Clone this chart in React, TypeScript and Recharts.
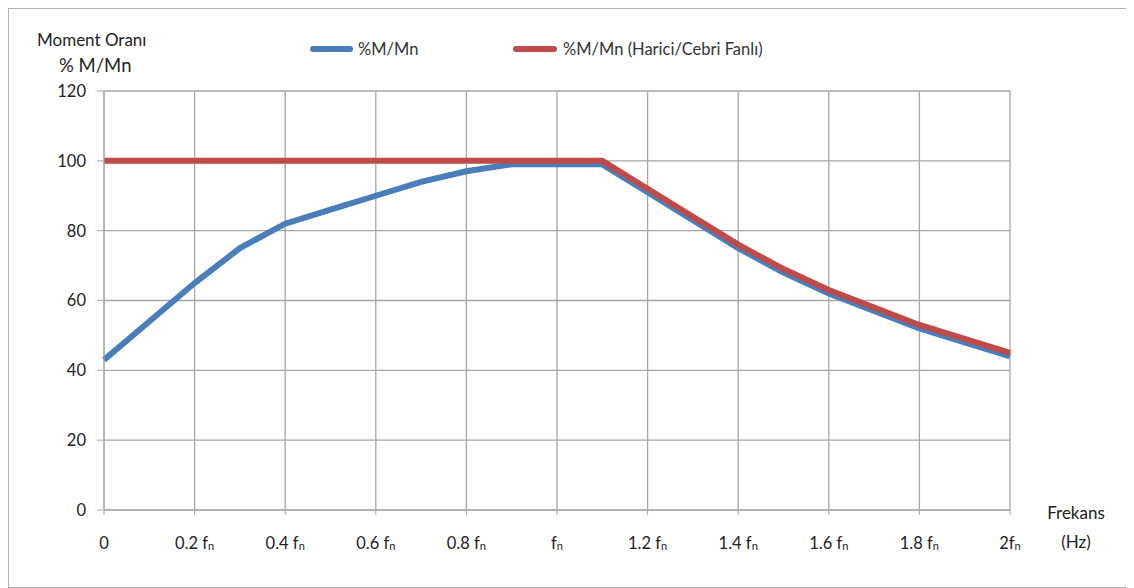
import { LineChart, Line, XAxis, YAxis, CartesianGrid } from "recharts";

// frequency as a fraction of the nominal frequency fn
const freq = [
  0, 0.1, 0.2, 0.3, 0.4, 0.5, 0.6, 0.7, 0.8, 0.9, 1.0, 1.1, 1.2, 1.3, 1.4,
  1.5, 1.6, 1.7, 1.8, 1.9, 2.0,
];
const momentSelf = [
  43, 54, 65, 75, 82, 86, 90, 94, 97, 99, 99, 99, 91, 83, 75, 68, 62, 57, 52,
  48, 44,
];
const momentForced = [
  100, 100, 100, 100, 100, 100, 100, 100, 100, 100, 100, 100, 92, 84, 76, 69,
  63, 58, 53, 49, 45,
];
const xTicks = [0, 0.2, 0.4, 0.6, 0.8, 1.0, 1.2, 1.4, 1.6, 1.8, 2.0];
const xTickLabels = [
  "0", "0.2 fn", "0.4 fn", "0.6 fn", "0.8 fn", "fn",
  "1.2 fn", "1.4 fn", "1.6 fn", "1.8 fn", "2fn",
];
const yTicks = [0, 20, 40, 60, 80, 100, 120];
const seriesNames = ["%M/Mn", "%M/Mn (Harici/Cebri Fanlı)"];

const BLUE = "#4a7ebb";
const RED = "#be4b48";
const GRID = "#a6a6a6";
const FONT = "Lato, 'Open Sans', sans-serif";

const data = freq.map((f, i) => ({
  f,
  self: momentSelf[i],
  forced: momentForced[i],
}));

const XTick = (props: any) => {
  const { x, y, payload } = props;
  const label = xTickLabels[xTicks.indexOf(payload.value)] ?? String(payload.value);
  const hasSub = label.endsWith("fn");
  const base = hasSub ? label.slice(0, -1) : label;
  return (
    <text x={x} y={y} textAnchor="middle" dy="0.71em" fill="#222" fontSize={16.5} fontFamily={FONT}>
      {base}
      {hasSub && (
        <tspan fontSize={11} dy={1}>
          n
        </tspan>
      )}
    </text>
  );
};

// legend drawn as plain html so it does not eat into the plot area
const ChartLegend = () => (
  <div
    style={{
      position: "absolute",
      left: 301,
      top: 30,
      display: "flex",
      alignItems: "center",
      fontSize: 16.5,
      color: "#333",
    }}
  >
    <span style={{ width: 43, height: 6, borderRadius: 3, background: BLUE, display: "inline-block" }} />
    <span style={{ marginLeft: 5, width: 155 }}>{seriesNames[0]}</span>
    <span style={{ width: 44, height: 6, borderRadius: 3, background: RED, display: "inline-block" }} />
    <span style={{ marginLeft: 6 }}>{seriesNames[1]}</span>
  </div>
);

export default function App() {
  return (
    <div
      style={{
        position: "relative",
        width: 1126,
        height: 580,
        boxSizing: "border-box",
        borderTop: "1px solid #b4b4b4",
        borderLeft: "1px solid #b4b4b4",
        borderBottom: "1px solid #b4b4b4",
        fontFamily: FONT,
        color: "#222",
      }}
    >
      <div style={{ position: "absolute", left: 28, top: 20, fontSize: 17 }}>Moment Oranı</div>
      <div style={{ position: "absolute", left: 50, top: 45, fontSize: 18.5 }}>% M/Mn</div>
      <div style={{ position: "absolute", left: 1020, top: 489, width: 94, textAlign: "center", fontSize: 17, lineHeight: "29px" }}>
        Frekans
        <br />
        (Hz)
      </div>
      <ChartLegend />
      <LineChart
        width={1125}
        height={578}
        data={data}
        margin={{ top: 82, right: 124, left: 45, bottom: 47 }}
      >
        <CartesianGrid stroke={GRID} strokeWidth={1.3} />
        <XAxis
          dataKey="f"
          type="number"
          domain={[0, 2]}
          ticks={xTicks}
          height={30}
          stroke={GRID}
          tickSize={5}
          tickMargin={22}
          tick={<XTick />}
          interval={0}
        />
        <YAxis
          type="number"
          domain={[0, 120]}
          ticks={yTicks}
          width={50}
          stroke={GRID}
          tickSize={7}
          tickMargin={11}
          tick={{ fill: "#222", fontSize: 16.5, fontFamily: FONT }}
          interval={0}
        />
        <Line
          type="linear"
          dataKey="self"
          name={seriesNames[0]}
          stroke={BLUE}
          strokeWidth={6}
          dot={false}
          isAnimationActive={false}
        />
        <Line
          type="linear"
          dataKey="forced"
          name={seriesNames[1]}
          stroke={RED}
          strokeWidth={6}
          dot={false}
          isAnimationActive={false}
        />
      </LineChart>
    </div>
  );
}
